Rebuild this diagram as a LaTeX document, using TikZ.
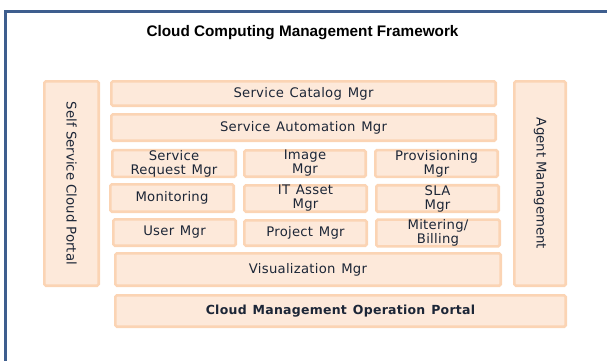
\documentclass[tikz,border=0pt]{standalone}
\usepackage{fontspec}
\setmainfont{DejaVu Sans}
\newfontfamily\boxfont{DejaVu Sans}[LetterSpace=2,WordSpace=1.3]
\newfontfamily\sidefont{DejaVu Sans}
\newfontfamily\titlefont{Liberation Sans}
\definecolor{peachfill}{RGB}{253,233,218}
\definecolor{peachline}{RGB}{251,212,180}
\definecolor{framecol}{RGB}{62,94,142}
\definecolor{labelcol}{RGB}{28,38,55}
\newcommand\pbox[7][]{%
  \node[mbox,minimum width={#5-#3-2.6},minimum height={#6-#4-2.6},#1] (#2) at ({(#3+#5)/2},{(#4+#6)/2}) {#7};}
\begin{document}
\begin{tikzpicture}[x=1pt,y=-1pt,
  mbox/.style={draw=peachline, fill=peachfill, line width=2.6pt, rounded corners=1.5pt,
    inner sep=0pt, align=center, text=labelcol,
    font=\boxfont\fontsize{13.2}{14}\selectfont},
  sidebox/.style={mbox, rotate=-90, font=\sidefont\fontsize{13.3}{16}\selectfont},
  boldlabel/.style={font=\boxfont\bfseries\fontsize{12.5}{14}\selectfont}]
\useasboundingbox (0,0) rectangle (607,360);
\begin{scope}
  \clip (0,0) rectangle (607,360);
  \draw[framecol, line width=2.8pt] (5.5,11.3) rectangle (650,420);
\end{scope}
\node[font=\titlefont\bfseries\fontsize{15.3}{18}\selectfont] (title) at (302.5,33) {Cloud Computing Management Framework};

\node[sidebox, minimum width=204.4, minimum height=54.4] (self) at (71.5,183.5) {Self Service Cloud Portal};
\node[sidebox, minimum width=204.4, minimum height=51.4] (agent) at (540,183.5) {Agent Management};

\pbox{cat}{110}{80}{497}{107}{Service Catalog Mgr}
\pbox{auto}{110}{113}{497}{142}{Service Automation Mgr}
\pbox{sreq}{111}{149}{237}{178}{Service\\Request Mgr}
\pbox{img}{243}{149}{367}{178}{Image\\Mgr}
\pbox{prov}{374}{149}{499}{178}{Provisioning\\Mgr}
\pbox{mon}{109}{183}{235}{213}{Monitoring}
\pbox{itas}{243}{184}{368}{213}{IT Asset\\Mgr}
\pbox{sla}{375}{184}{500}{213}{SLA\\Mgr}
\pbox{user}{112}{218}{237}{247}{User Mgr}
\pbox{proj}{243}{219}{368}{247}{Project Mgr}
\pbox{mit}{375}{219}{501}{247}{Mitering/\\Billing}
\pbox{vis}{114}{252}{502}{287}{Visualization Mgr}
\pbox[boldlabel]{portal}{114}{294}{567}{328}{Cloud Management Operation Portal}
\end{tikzpicture}
\end{document}
